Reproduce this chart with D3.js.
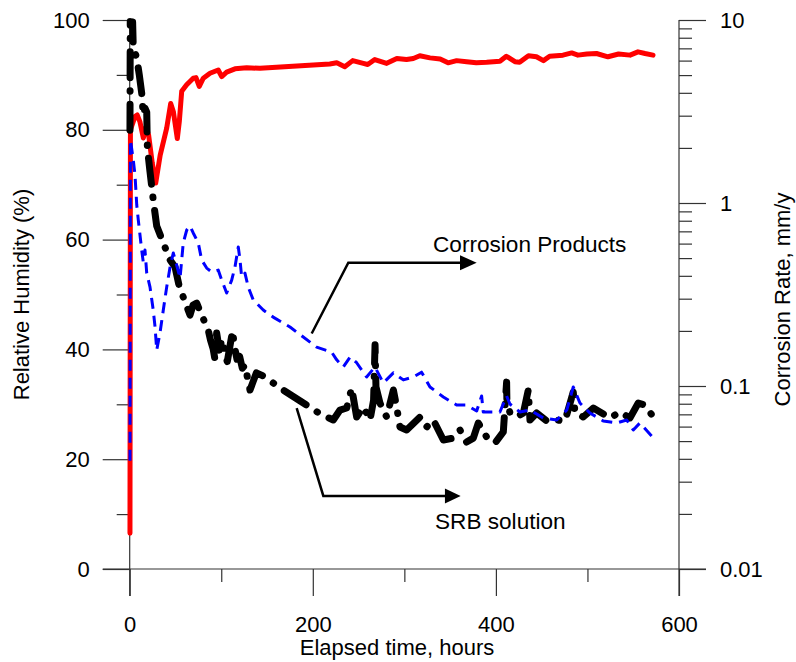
<!DOCTYPE html>
<html><head><meta charset="utf-8">
<script src="https://cdn.jsdelivr.net/npm/d3@7"></script>
<style>
body{margin:0;background:#fff;}
svg{display:block;font-family:"Liberation Sans",Arial,sans-serif;}
</style></head>
<body><svg id="c" width="796" height="662"></svg>
<script>
// ---- Data ----
// Relative humidity (%) vs elapsed time (hours)
const rhHours = [0.3,0.8,5.8,8.2,11.1,14.9,17.8,20.7,24.6,28.4,33.3,40.4,44.8,47.7,52.0,54.2,56.8,62.2,69.4,72.4,76.0,80.4,87.7,96.7,100.5,105.9,115.0,127.8,142.3,
  218.5,226.2,234.9,243.6,255.2,260.0,267.7,280.7,291.8,302.4,309.8,316.9,328.0,339.1,347.8,357.1,368.0,378.6,389.9,404.4,411.4,420.8,425.9,435.6,444.3,451.9,458.7,473.2,482.8,489.6,499.3,509.9,522.4,534.0,546.5,555.2,562.9,571.6];
const rhValues = [6.5,80,82.4,82.7,81.5,78.5,80.5,79,74,70.3,75.4,80.3,84.8,83.3,78.4,81.5,87,88.2,89.4,89.5,87.9,89.4,90.3,90.9,89.7,90.5,91.1,91.3,91.2,
  92,92.2,91.5,92.6,92.1,91.9,92.8,92.1,93,92.8,93,93.5,93.1,92.9,92.2,92.6,92.4,92.2,92.3,92.5,93.4,92.4,92.3,93.5,93.3,92.6,93.4,93.6,94,93.6,93.8,93.9,93.3,93.8,93.6,94.2,93.9,93.6];

// Corrosion rate (mm/y), SRB solution
const srbHours = [0.3,0.6,3.2,3.9,7.7,10.5,13.1,14.8,16.7,18.6,19.3,22.2,25.7,29.5,36.7,44.1,49.5,53.8,58.5,65.9,69.2,73.2,78.6,
  85.8,88.3,91.1,93.1,95.0,97.9,100.8,103.7,106.6,109.5,112.4,114.3,117.2,120.1,123.0,125.9,128.8,131.4,134.6,138.4,143.2,147.8,164.2,
  210.0,215.2,222.4,229.7,237.0,242.5,247.9,255.2,262.5,266.4,268.0,269.0,273.4,280.7,288.0,291.6,295.2,302.5,317.1,324.4,331.6,342.6,353.5,360.8,368.0,375.3,380.8,389.9,399.0,408.1,
  411.7,412.0,415.4,422.7,430.0,435.4,437.2,444.5,455.5,466.4,475.4,484.5,486.4,495.4,506.4,513.7,524.6,535.5,546.4,555.5,562.8,571.9];
const srbRate = [2.5,9.8,9.75,7.1,6.2,5.0,3.99,3.03,3.3,3.14,2.0,1.48,1.04,0.749,0.605,0.488,0.447,0.356,0.306,0.244,0.277,0.284,0.244,
  0.202,0.178,0.16,0.14,0.195,0.157,0.18,0.15,0.136,0.165,0.2,0.165,0.14,0.145,0.125,0.13,0.11,0.0951,0.105,0.118,0.115,0.112,0.0975,
  0.0694,0.0677,0.0652,0.0739,0.0758,0.0975,0.0677,0.0768,0.0652,0.0838,0.168,0.0988,0.0807,0.0677,0.0951,0.0768,0.0597,0.0575,0.0677,0.0597,0.0652,0.0507,0.0519,0.0575,0.0494,0.0519,0.0628,0.0526,0.0488,0.0561,
  0.105,0.0838,0.0712,0.0677,0.0712,0.0951,0.0652,0.0712,0.0644,0.0652,0.0644,0.0927,0.0712,0.0677,0.0758,0.0721,0.0669,0.0721,0.0669,0.0807,0.0787,0.0677];

// Corrosion rate (mm/y), corrosion products
const cpHours = [0.3,0.8,3.9,5.8,7.7,9.4,13.1,14.8,16.7,18.6,22.2,25.7,27.7,29.5,33.1,36.7,40.4,44.1,47.6,51.3,55.0,58.5,62.3,65.9,69.4,74.9,78.6,84.1,89.6,96.7,100.5,105.9,111.4,115.0,118.6,120.5,122.3,125.9,129.5,135.0,145.9,156.7,175.1,
  204.2,220.6,226.1,233.3,240.7,247.9,258.8,267.9,277.0,288.0,298.9,309.8,318.8,328.0,342.6,357.1,368.0,379.0,384.4,386.2,404.4,411.7,415.3,426.3,437.2,451.8,466.5,477.4,484.5,491.8,502.7,517.3,532.0,542.9,550.1,557.3,570.2];
const cpRate = [0.039,2.21,1.72,1.42,0.975,0.807,0.553,0.476,0.553,0.414,0.347,0.26,0.21,0.157,0.195,0.26,0.347,0.447,0.533,0.458,0.389,0.605,0.712,0.749,0.686,0.605,0.488,0.441,0.42,0.43,0.379,0.322,0.379,0.447,0.575,0.488,0.394,0.414,0.347,0.295,0.26,0.238,0.21,
  0.163,0.153,0.139,0.127,0.144,0.134,0.112,0.127,0.104,0.118,0.108,0.112,0.119,0.0988,0.0871,0.0787,0.0787,0.073,0.0882,0.0721,0.0721,0.0882,0.0797,0.0721,0.0739,0.0669,0.0652,0.0739,0.0988,0.0807,0.0712,0.0644,0.0628,0.0652,0.0575,0.0628,0.0533];

// Axis ticks
const xTicks = [0,200,400,600];
const xMinor = [100,300,500];
const rhTicks = [0,20,40,60,80,100];
const rhMinor = [10,30,50,70,90];
const rateTicks = [0.01,0.1,1,10];
const rateLabels = ["0.01","0.1","1","10"];
const rateMinor = [2,3,4,5,6,7,8,9].flatMap(k => [0.01*k,0.1*k,1*k]);

// Annotations (in hours / RH% coordinates)
const cpArrow = [[198.8,42.9],[238.8,55.8],[363.0,55.8]];
const cpArrowTip = 379.0;
const cpLabel = {t:331.3, rh:59.2, text:"Corrosion Products"};
const srbArrow = [[182.4,29.3],[211.5,13.3],[346.5,13.3]];
const srbArrowTip = 361.5;
const srbLabel = {t:333.5, rh:8.7, text:"SRB solution"};

// ---- Scales ----
const svg = d3.select("#c");
const x = d3.scaleLinear([0,600],[129.7,679]);
const yL = d3.scaleLinear([0,100],[569,20]);
const yR = d3.scaleLog([0.01,10],[569,20]);
const axisColor = "#333";
const majorLen = 27, minorLen = 13;
const tickFont = 22, titleFont = 22, noteFont = 22.6;

// ---- Axes ----
function styleAxis(g){
  g.select(".domain").remove();
  g.selectAll(".tick line").attr("stroke",axisColor).attr("stroke-width",1.2);
  g.selectAll("text").attr("font-size",tickFont).attr("fill","#000").attr("font-family","Liberation Sans, Arial, sans-serif");
}
const leftX = x(0), rightX = x(600);

svg.append("g").attr("transform",`translate(${leftX},0)`)
  .call(d3.axisLeft(yL).tickValues(rhTicks).tickSize(majorLen).tickPadding(13)).call(styleAxis);
svg.append("g").attr("transform",`translate(${leftX},0)`)
  .call(d3.axisLeft(yL).tickValues(rhMinor).tickSize(minorLen).tickFormat("")).call(styleAxis);

svg.append("g").attr("transform",`translate(0,${yL(0)})`)
  .call(d3.axisBottom(x).tickValues(xTicks).tickSize(majorLen).tickPadding(20)).call(styleAxis);
svg.append("g").attr("transform",`translate(0,${yL(0)})`)
  .call(d3.axisBottom(x).tickValues(xMinor).tickSize(minorLen).tickFormat("")).call(styleAxis);

svg.append("g").attr("transform",`translate(${rightX},0)`)
  .call(d3.axisRight(yR).tickValues(rateTicks).tickSize(majorLen).tickPadding(14).tickFormat((d,i)=>rateLabels[i])).call(styleAxis);
svg.append("g").attr("transform",`translate(${rightX},0)`)
  .call(d3.axisRight(yR).tickValues(rateMinor).tickSize(minorLen).tickFormat("")).call(styleAxis);

// axis lines
const axLines = svg.append("g").attr("stroke",axisColor).attr("stroke-width",1.2);
axLines.append("line").attr("x1",leftX).attr("x2",leftX).attr("y1",yL(100)).attr("y2",yL(0)+majorLen);
axLines.append("line").attr("x1",rightX).attr("x2",rightX).attr("y1",yR(10)).attr("y2",yL(0)+majorLen);
axLines.append("line").attr("x1",leftX-majorLen).attr("x2",rightX+majorLen).attr("y1",yL(0)).attr("y2",yL(0));

// axis titles
svg.append("text").attr("transform",`translate(29,${(yL(0)+yL(100))/2}) rotate(-90)`)
  .attr("text-anchor","middle").attr("font-size",titleFont).text("Relative Humidity (%)");
svg.append("text").attr("transform",`translate(790,${(yL(0)+yL(100))/2+5}) rotate(-90)`)
  .attr("text-anchor","middle").attr("font-size",titleFont).text("Corrosion Rate, mm/y");
svg.append("text").attr("x",x(292)).attr("y",655)
  .attr("text-anchor","middle").attr("font-size",titleFont).text("Elapsed time, hours");

// ---- Series ----
const rhLine = d3.line().x((d,i)=>x(rhHours[i])).y(d=>yL(d));
svg.append("path").attr("d",rhLine(rhValues)).attr("fill","none")
  .attr("stroke","#ff0000").attr("stroke-width",5).attr("stroke-linejoin","round").attr("stroke-linecap","round");

const srbLine = d3.line().x((d,i)=>x(srbHours[i])).y(d=>yR(d));
svg.append("path").attr("d",srbLine(srbRate)).attr("fill","none")
  .attr("stroke","#000").attr("stroke-width",7).attr("stroke-linejoin","round").attr("stroke-linecap","round")
  .attr("stroke-dasharray","26,13,0.5,13");

const cpLine = d3.line().x((d,i)=>x(cpHours[i])).y(d=>yR(d));
svg.append("path").attr("d",cpLine(cpRate)).attr("fill","none")
  .attr("stroke","#0000ff").attr("stroke-width",3).attr("stroke-linejoin","round")
  .attr("stroke-dasharray","11,7");

// ---- Annotations ----
function arrow(pts, tipT){
  const p = pts.map(d=>[x(d[0]),yL(d[1])]);
  svg.append("path").attr("d",d3.line()(p)).attr("fill","none").attr("stroke","#000").attr("stroke-width",2.5);
  const yy = p[p.length-1][1], xs = p[p.length-1][0]-2, xt = x(tipT);
  svg.append("path").attr("d",`M${xs},${yy-7.5}L${xt},${yy}L${xs},${yy+7.5}Z`).attr("fill","#000");
}
arrow(cpArrow, cpArrowTip);
arrow(srbArrow, srbArrowTip);
[cpLabel, srbLabel].forEach(l=>{
  svg.append("text").attr("x",x(l.t)).attr("y",yL(l.rh)).attr("dy","0.35em")
    .attr("font-size",noteFont).text(l.text);
});
</script>
</body></html>
